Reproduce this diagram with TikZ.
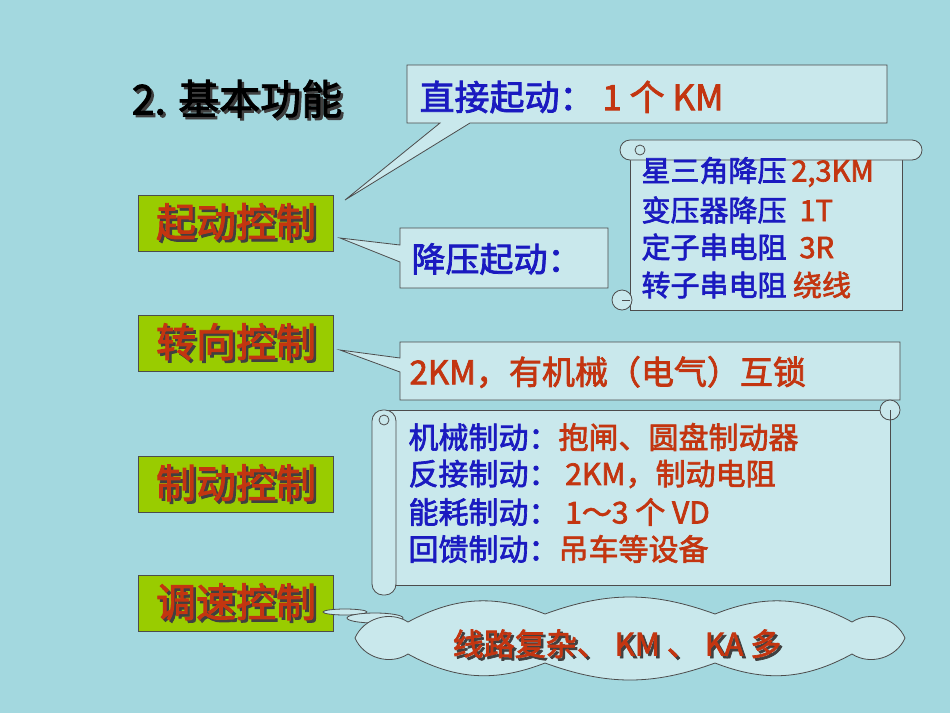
\documentclass[tikz,border=0pt]{standalone}
\usepackage{fontspec}
\newfontfamily\cjk[FakeBold=2.2]{Noto Sans CJK SC}
\definecolor{bg}{HTML}{A3D8DF}
\definecolor{callf}{HTML}{C9E8EC}
\definecolor{blu}{HTML}{1A1AC0}
\definecolor{rd}{HTML}{C33510}
\definecolor{grn}{HTML}{99CC00}
\newcommand{\shd}[1]{\makebox[0pt][l]{\hspace{2.5pt}\raisebox{-2.5pt}{\color{black!75}#1}}#1}
\tikzset{
 ctrl/.style={draw=black!70,fill=grn,line width=1pt,minimum width=195pt,minimum height=56pt,inner sep=0pt,font=\cjk\fontsize{40}{42}\selectfont,text=rd},
 stxt/.style={font=\cjk\fontsize{29}{33}\selectfont,anchor=west},
 ltxt/.style={font=\cjk\fontsize{30}{31}\selectfont,anchor=west},
}
\begin{document}
\begin{tikzpicture}[x=1pt,y=-1pt]
\fill[bg] (0,0) rectangle (950,713);
\useasboundingbox (0,0) rectangle (950,713);
% title
\node[font=\cjk\fontsize{41}{44}\selectfont] (title) at (237,100) {\shd{2. 基本功能}};
% control boxes
\foreach \n/\y/\t in {qd/223/起动控制,zx/343/转向控制,zd/484/制动控制,ts/603/调速控制}{
 \node[ctrl] (\n) at (236,\y) {\shd{\t}};
}
% callout 1
\fill[callf,draw=black!70,line width=0.8pt] (407,65) -- (887,65) -- (887,123) -- (470,123) -- (345,200) -- (440,123) -- (407,123) -- cycle;
\node[anchor=west,font=\cjk\fontsize{35}{36}\selectfont] (c1) at (416,97) {\textcolor{blu}{直接起动：}\ \textcolor{rd}{1 个 KM}};
% callout 2
\fill[callf,draw=black!70,line width=0.8pt] (400,228) -- (608,228) -- (608,288) -- (400,288) -- (400,262) -- (340,238) -- (400,245) -- cycle;
\node[anchor=west,font=\cjk\fontsize{34}{36}\selectfont,text=blu] (c2) at (408,259) {降压起动：};
% scroll 1
\filldraw[fill=callf,draw=black!70,line width=0.8pt] (630,150) rectangle (902,310);
\filldraw[fill=callf,draw=black!70,line width=0.8pt,rounded corners=10pt] (620,140) rectangle (922,160);
\draw[black!70,line width=0.8pt] (640,150) circle (5);
\filldraw[fill=callf,draw=black!70,line width=0.8pt] (622,300) circle (10);
\draw[black!70,line width=0.8pt] (622,300) -- (630,300);
\node[stxt] (s1) at (638,172) {\textcolor{blu}{星三角降压}\,\textcolor{rd}{2,3KM}};
\node[stxt] at (638,210) {\textcolor{blu}{变压器降压}\ \ \textcolor{rd}{1T}};
\node[stxt] at (638,247) {\textcolor{blu}{定子串电阻}\ \ \textcolor{rd}{3R}};
\node[stxt] at (638,285) {\textcolor{blu}{转子串电阻}\ \textcolor{rd}{绕线}};
% callout 3
\fill[callf,draw=black!70,line width=0.8pt] (400,342) -- (900,342) -- (900,400) -- (400,400) -- (400,372) -- (340,350) -- (400,358) -- cycle;
\node[anchor=west,font=\cjk\fontsize{33}{34}\selectfont,text=rd] (c3) at (406,372) {2KM，有机械（电气）互锁};
% scroll 2
\filldraw[fill=callf,draw=black!70,line width=0.8pt] (385,410) rectangle (890,585);
\filldraw[fill=callf,draw=black!70,line width=0.8pt] (890,410) circle (10);
\draw[black!70,line width=0.8pt] (890,410) -- (890,420);
\filldraw[fill=callf,draw=black!70,line width=0.8pt,rounded corners=11pt] (372,410) rectangle (396,595);
\draw[black!70,line width=0.8pt] (384,420) circle (5);
\node[ltxt] (l1) at (405,437) {\textcolor{blu}{机械制动：}\textcolor{rd}{抱闸、圆盘制动器}};
\node[ltxt] at (405,474) {\textcolor{blu}{反接制动：}\ \textcolor{rd}{2KM，制动电阻}};
\node[ltxt] at (405,512) {\textcolor{blu}{能耗制动：}\ \textcolor{rd}{1～3 个 VD}};
\node[ltxt] at (405,549) {\textcolor{blu}{回馈制动：}\textcolor{rd}{吊车等设备}};
% cloud
\draw[black!70,fill=callf,line width=0.8pt] (345,612) ellipse (22 and 3);
\draw[black!70,fill=callf,line width=0.8pt] (375,618) ellipse (28 and 5);
\filldraw[fill=callf,draw=black!70,line width=0.8pt] (905,638) to[bend left=50] (852,654) to[bend left=25] (715,663) to[bend left=20] (545,663) to[bend left=25] (408,654) to[bend left=50] (355,638) to[bend left=50] (408,622) to[bend left=25] (545,614) to[bend left=20] (715,614) to[bend left=25] (852,622) to[bend left=50] cycle;
\node[font=\cjk\fontsize{31}{32}\selectfont,text=rd] (ct) at (617,645) {\shd{线路复杂、 KM 、 KA 多}};
\end{tikzpicture}
\end{document}
